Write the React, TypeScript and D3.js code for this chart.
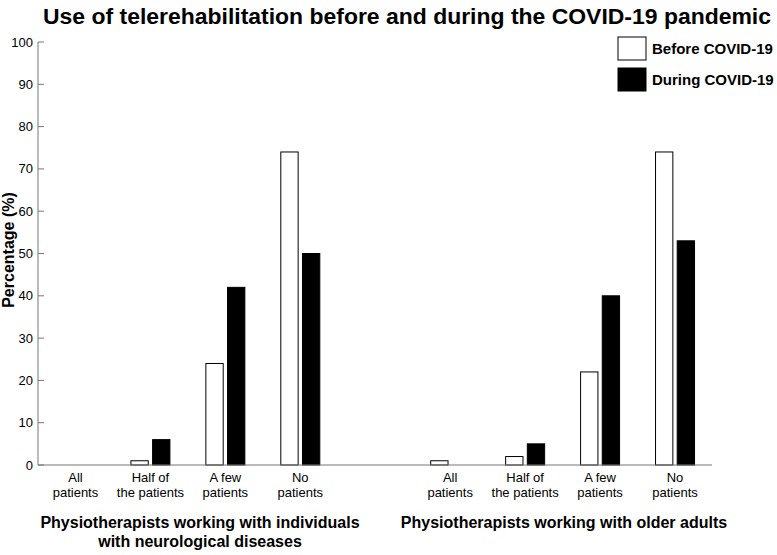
import React from "react";
import * as d3 from "d3";

const title = "Use of telerehabilitation before and during the COVID-19 pandemic";
const categoryLabels = [["All", "patients"], ["Half of", "the patients"], ["A few", "patients"], ["No", "patients"]];
const series = ["Before COVID-19", "During COVID-19"];
const neuroBefore = [0, 1, 24, 74];
const neuroDuring = [0, 6, 42, 50];
const olderBefore = [1, 2, 22, 74];
const olderDuring = [0, 5, 40, 53];
const groupTitles = [
  ["Physiotherapists working with individuals", "with neurological diseases"],
  ["Physiotherapists working with older adults"],
];
const yTicks = [0, 10, 20, 30, 40, 50, 60, 70, 80, 90, 100];

const FONT = "'Liberation Sans', Arial, Helvetica, sans-serif";

export default function App() {
  const W = 777, H = 555;
  const slots = ["n0", "n1", "n2", "n3", "gap", "o0", "o1", "o2", "o3"];
  const x = d3.scaleBand<string>().domain(slots).range([38, 712.5]).paddingInner(0).paddingOuter(0);
  const sub = d3.scaleBand<string>().domain(series).range([-19.5, 19.5]).paddingInner(0.2).paddingOuter(0);
  const y = d3.scaleLinear().domain([0, 100]).range([465, 42]);

  const groups = [
    { prefix: "n", before: neuroBefore, during: neuroDuring, titleX: 200 },
    { prefix: "o", before: olderBefore, during: olderDuring, titleX: 564 },
  ];

  const bars: any[] = [];
  const labels: any[] = [];
  groups.forEach((g, gi) => {
    categoryLabels.forEach((lab, i) => {
      const c = (x(g.prefix + i) as number) + x.bandwidth() / 2;
      [g.before[i], g.during[i]].forEach((v, si) => {
        if (v <= 0) return;
        const bx = c + (sub(series[si]) as number);
        bars.push(
          <rect key={`b${gi}-${i}-${si}`} x={bx} y={y(v)} width={sub.bandwidth()} height={y(0) - y(v)}
            fill={si === 0 ? "#ffffff" : "#000000"} stroke="#000" strokeWidth={1} />
        );
      });
      labels.push(
        <text key={`l${gi}-${i}`} x={c} textAnchor="middle" fontSize={13} style={{ fontFamily: FONT }} fill="#000">
          <tspan x={c} y={482}>{lab[0]}</tspan>
          <tspan x={c} y={497}>{lab[1]}</tspan>
        </text>
      );
    });
  });

  return (
    <svg width={W} height={H} style={{ position: "absolute", left: 0, top: 0, background: "#fff", fontFamily: FONT }}>
      <rect x={0} y={0} width={W} height={H} fill="#fff" />
      <text x={407} y={24} textAnchor="middle" fontSize={22} fontWeight="bold" style={{ fontFamily: FONT }}
        textLength={728} lengthAdjust="spacingAndGlyphs">{title}</text>

      {/* y axis */}
      <line x1={38} x2={38} y1={y(100)} y2={y(0)} stroke="#777" strokeWidth={1} />
      {yTicks.map((t) => (
        <g key={t}>
          <line x1={38} x2={44} y1={y(t)} y2={y(t)} stroke="#777" strokeWidth={1} />
          <text x={33} y={y(t) + 4.5} textAnchor="end" fontSize={13} style={{ fontFamily: FONT }}>{t}</text>
        </g>
      ))}
      <text transform={`translate(14,250) rotate(-90)`} textAnchor="middle" fontSize={16} fontWeight="bold" style={{ fontFamily: FONT }}>
        Percentage (%)
      </text>

      {bars}
      <line x1={38} x2={712} y1={y(0)} y2={y(0)} stroke="#777" strokeWidth={1} />
      {labels}

      {groupTitles.map((lines, gi) => (
        <text key={`gt${gi}`} textAnchor="middle" fontSize={16} fontWeight="bold" style={{ fontFamily: FONT }}>
          {lines.map((ln, li) => (
            <tspan key={li} x={groups[gi].titleX} y={528 + li * 19}>{ln}</tspan>
          ))}
        </text>
      ))}

      {/* legend */}
      {series.map((s, i) => (
        <g key={s}>
          <rect x={618} y={37 + i * 31} width={28} height={23} fill={i === 0 ? "#fff" : "#000"} stroke="#000" strokeWidth={1} />
          <text x={652} y={54 + i * 31} fontSize={15} fontWeight="bold" style={{ fontFamily: FONT }}>{s}</text>
        </g>
      ))}
    </svg>
  );
}
